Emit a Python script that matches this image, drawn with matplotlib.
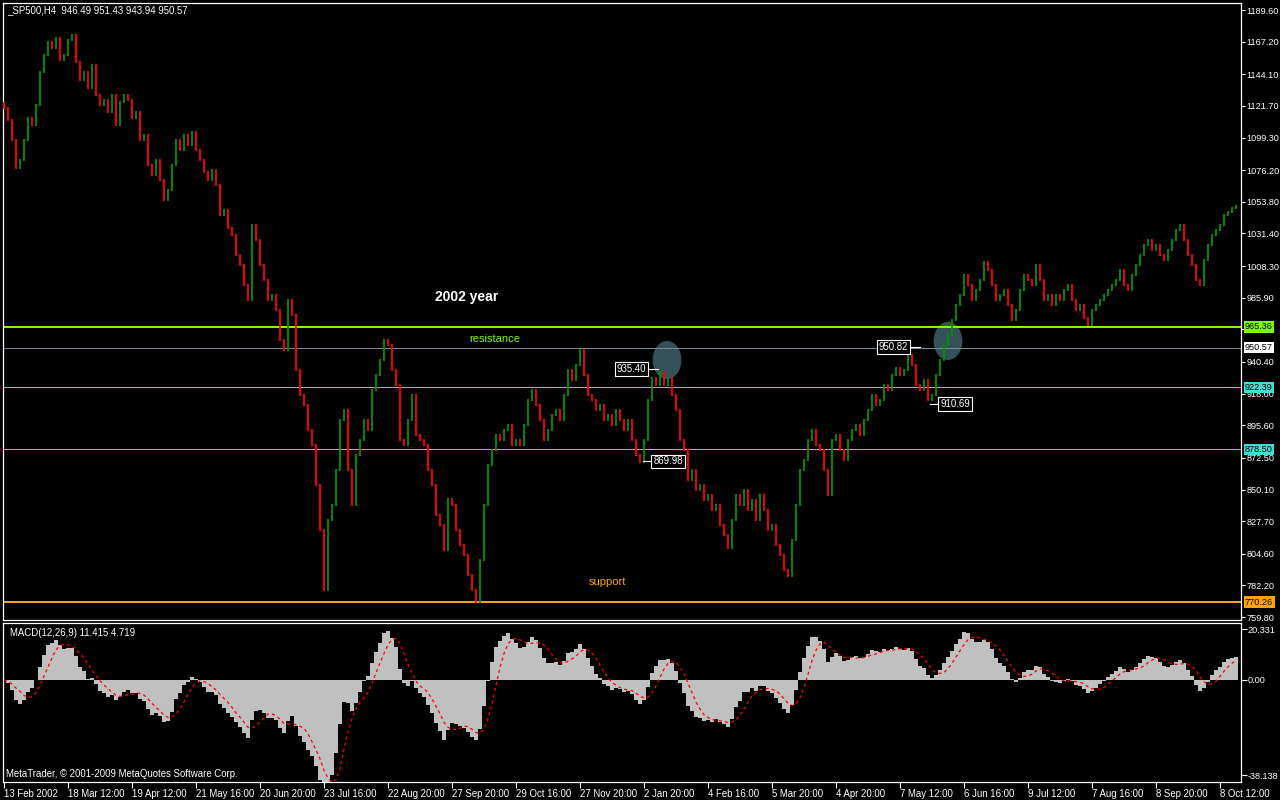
import numpy as np
import pandas as pd
import matplotlib
matplotlib.use("Agg")
import matplotlib.pyplot as plt
from matplotlib.patches import Ellipse

plt.rcParams['font.family'] = ['Liberation Sans', 'DejaVu Sans']

# H4 closes (one value every ~2 bars)
first_open = 1124.0
closes = [
    1120.2, 1111.7, 1097.6, 1077.8, 1083.4, 1097.6, 1113.2, 1108.2, 1122.4, 1145.7,
    1157.8, 1167.0, 1162.7, 1169.8, 1154.2, 1157.8, 1168.4, 1171.9, 1152.8, 1140.1,
    1145.7, 1134.4, 1150.7, 1129.4, 1122.4, 1125.9, 1117.4, 1129.4, 1108.2, 1124.5,
    1129.4, 1125.9, 1113.2, 1117.4, 1097.6, 1101.1, 1079.9, 1072.8, 1083.4, 1069.3,
    1055.1, 1062.2, 1079.9, 1097.6, 1090.5, 1101.1, 1094.0, 1103.2, 1090.5, 1083.4,
    1074.9, 1069.3, 1076.3, 1065.7, 1044.5, 1048.0, 1035.3, 1030.3, 1016.2, 1009.1,
    994.9, 984.3, 1037.4, 1026.8, 1009.1, 998.4, 984.3, 987.8, 977.2, 956.0,
    948.9, 984.3, 973.7, 934.7, 917.0, 909.9, 892.2, 881.6, 853.3, 821.4,
    778.9, 828.5, 839.1, 863.9, 899.3, 906.4, 863.9, 839.1, 874.5, 885.1,
    899.3, 892.2, 920.5, 931.2, 941.8, 956.0, 952.4, 934.7, 924.1, 885.1,
    881.6, 899.3, 917.0, 888.7, 885.1, 881.6, 863.9, 853.3, 832.0, 825.0,
    807.3, 843.3, 839.1, 821.4, 810.8, 803.7, 789.6, 778.9, 770.5, 800.2,
    839.1, 867.5, 878.1, 888.7, 885.1, 892.2, 895.8, 881.6, 885.1, 881.6,
    895.8, 913.5, 920.5, 909.9, 899.3, 885.1, 892.2, 902.9, 906.4, 899.3,
    917.0, 934.7, 927.6, 938.3, 948.9, 931.2, 917.0, 913.5, 906.4, 909.9,
    899.3, 902.9, 895.8, 906.4, 899.3, 892.2, 899.3, 885.1, 874.5, 869.6,
    885.1, 913.5, 929.1, 924.1, 933.3, 924.1, 929.1, 917.0, 906.4, 885.1,
    878.1, 856.8, 863.9, 849.7, 853.3, 842.6, 846.2, 835.6, 839.1, 825.0,
    817.9, 808.7, 828.5, 846.2, 839.1, 849.7, 835.6, 842.6, 828.5, 846.2,
    835.6, 821.4, 825.0, 810.8, 803.7, 793.1, 788.9, 814.3, 839.1, 863.9,
    871.0, 885.1, 892.2, 881.6, 878.1, 863.9, 846.2, 885.1, 888.7, 878.1,
    871.0, 885.1, 892.2, 895.8, 888.7, 899.3, 906.4, 917.0, 909.9, 913.5,
    924.1, 920.5, 931.2, 936.1, 931.2, 934.7, 945.4, 938.3, 924.1, 920.5,
    927.6, 913.5, 917.0, 931.2, 941.8, 952.4, 959.5, 970.1, 980.7, 987.8,
    1002.0, 994.9, 984.3, 991.4, 998.4, 1011.2, 1005.5, 994.9, 984.3, 987.8,
    991.4, 980.7, 970.1, 977.2, 991.4, 1002.0, 998.4, 994.9, 1009.1, 998.4,
    984.3, 987.8, 980.7, 987.8, 984.3, 991.4, 994.9, 984.3, 977.2, 980.7,
    971.5, 966.6, 977.2, 980.7, 984.3, 987.8, 991.4, 994.9, 998.4, 1005.5,
    994.9, 991.4, 1002.0, 1009.1, 1016.2, 1023.3, 1026.8, 1019.7, 1023.3, 1016.2,
    1012.6, 1019.7, 1026.8, 1033.8, 1037.4, 1026.8, 1016.2, 1009.1, 998.4, 994.9,
    1012.6, 1023.3, 1030.3, 1033.8, 1037.4, 1044.5, 1046.6, 1049.5, 1051.0,
]

date_labels = ["13 Feb 2002", "18 Mar 12:00", "19 Apr 12:00", "21 May 16:00",
               "20 Jun 20:00", "23 Jul 16:00", "22 Aug 20:00", "27 Sep 20:00",
               "29 Oct 16:00", "27 Nov 20:00", "2 Jan 20:00", "4 Feb 16:00",
               "5 Mar 20:00", "4 Apr 20:00", "7 May 12:00", "6 Jun 16:00",
               "9 Jul 12:00", "7 Aug 16:00", "8 Sep 20:00", "8 Oct 12:00"]
price_ticks = [1189.60, 1167.20, 1144.10, 1121.70, 1099.30, 1076.20, 1053.80,
               1031.40, 1008.30, 985.90, 963.50, 940.40, 918.00, 895.60, 872.50,
               850.10, 827.70, 804.60, 782.20, 759.80]
macd_ticks = [20.331, 0.0, -38.138]

level_prices = [965.36, 950.57, 922.39, 878.50, 770.26]
level_colors = ["#7CFC00", "#778899", "#40E0D0", "#40E0D0", "#FFA500"]
level_px = [2, 1, 1, 1, 2]
tag_colors = ["#7CFC00", "#FFFFFF", "#40E0D0", "#40E0D0", "#FFA500"]

note_prices = [935.40, 869.98, 950.82, 910.69]
note_bars = [163.5, 159.75, 229.0, 231.5]
note_side = ["left", "right", "left", "right"]

circle_bars = [165.75, 236.0]
circle_prices = [941.8, 955.3]

W, H = 1280, 800
FS = 6.9
AXFS = 6.6
fig = plt.figure(figsize=(12.8, 8), dpi=100, facecolor="black")
ax = fig.add_axes([2.5 / W, 1 - 620 / H, 1238.5 / W, 617 / H], facecolor="black")
ax2 = fig.add_axes([2.5 / W, 1 - 782 / H, 1238.5 / W, 159 / H], facecolor="black")

n = len(closes)
x = np.arange(n)
opens = [first_open] + closes[:-1]
lo = np.minimum(opens, closes)
hi = np.maximum(opens, closes)
cols = ["#009000" if c >= o else "#FF0000" for o, c in zip(opens, closes)]

# circles behind the candles
for b, p in zip(circle_bars, circle_prices):
    ax.add_patch(Ellipse((b, p), 7.2, 27, facecolor="#34515a", edgecolor="none", zorder=1))

for p, c, w in zip(level_prices, level_colors, level_px):
    ax.axhline(p, color=c, lw=w * 0.72, antialiased=False, zorder=2)

ax.vlines(x, lo - 0.5, hi + 0.5, colors=cols, lw=1.35, zorder=3)

xmin, xmax = -0.375, 309.25
ax.set_xlim(xmin, xmax)
ax.set_ylim(757.7, 1194.6)
ax.set_xticks([])
ax.yaxis.tick_right()
ax.set_yticks(price_ticks)
# 963.50 sits under the 965.36 tag, as in the terminal
ax.set_yticklabels(["" if t == 963.50 else f"{t:.2f}" for t in price_ticks])
ax.tick_params(axis="y", colors="white", labelcolor="white", labelsize=AXFS,
               length=3, width=0.8, pad=1)
for s in ax.spines.values():
    s.set_color("white")
    s.set_linewidth(0.9)

for p, c in zip(level_prices, tag_colors):
    ax.text(1.0 + 4 / 1238.5, p, f"{p:.2f}", transform=ax.get_yaxis_transform(),
            ha="left", va="center", fontsize=AXFS, color="black", zorder=6, clip_on=False,
            bbox=dict(facecolor=c, edgecolor="none", boxstyle="square,pad=0.15"))

for p, b, side in zip(note_prices, note_bars, note_side):
    if side == "left":
        ax.plot([b - 2.7, b], [p, p], color="white", lw=0.8, zorder=5)
        ax.text(b - 3.0, p, f"{p:.2f}", ha="right", va="center", fontsize=FS,
                color="white", zorder=6,
                bbox=dict(facecolor="black", edgecolor="white", lw=0.8,
                          boxstyle="square,pad=0.2"))
    else:
        ax.plot([b, b + 2.3], [p, p], color="white", lw=0.8, zorder=5)
        ax.text(b + 2.6, p, f"{p:.2f}", ha="left", va="center", fontsize=FS,
                color="white", zorder=6,
                bbox=dict(facecolor="black", edgecolor="white", lw=0.8,
                          boxstyle="square,pad=0.2"))

ax.text(115.75, 986.4, "2002 year", color="white", fontsize=10, fontweight="bold",
        ha="center", va="center", zorder=6)
ax.text(122.75, 956.7, "resistance", color="#7CFC00", fontsize=8, ha="center",
        va="center", zorder=6)
ax.text(150.75, 784.6, "support", color="#FFA500", fontsize=8, ha="center",
        va="center", zorder=6)

fig.text(7 / W, 1 - 10 / H, "_SP500,H4  946.49 951.43 943.94 950.57", color="white",
         fontsize=FS, ha="left", va="center")

# MACD panel
c = pd.Series(closes)
macd = c.ewm(span=6, adjust=False).mean() - c.ewm(span=13, adjust=False).mean()
signal = macd.rolling(5, min_periods=1).mean()
ax2.bar(x, macd, width=1.0, color="#C0C0C0", linewidth=0, zorder=2)
ax2.plot(x, signal, color="#FF0000", lw=0.9, ls=(0, (2.5, 2.5)), zorder=3)
ax2.set_xlim(xmin, xmax)
ax2.set_ylim(-40.93, 22.75)
ax2.yaxis.tick_right()
ax2.set_yticks(macd_ticks)
ax2.set_yticklabels(["20.331", "0.00", "-38.138"])
tick_bars = np.arange(len(date_labels)) * 16
ax2.set_xticks(tick_bars)
ax2.set_xticklabels(date_labels, ha="left")
ax2.tick_params(axis="both", colors="white", labelcolor="white", labelsize=FS,
                length=4, width=0.8, pad=1)
ax2.tick_params(axis="y", labelsize=AXFS)
for s in ax2.spines.values():
    s.set_color("white")
    s.set_linewidth(0.9)
ax2.text(7 / 1238.5, 0.94, "MACD(12,26,9) 11.415 4.719", transform=ax2.transAxes,
         color="white", fontsize=FS, ha="left", va="center")
ax2.text(3 / 1238.5, 0.05, "MetaTrader, \u00a9 2001-2009 MetaQuotes Software Corp.",
         transform=ax2.transAxes, color="white", fontsize=FS, ha="left", va="center")

fig.savefig("out.png", dpi=100, facecolor="black")
